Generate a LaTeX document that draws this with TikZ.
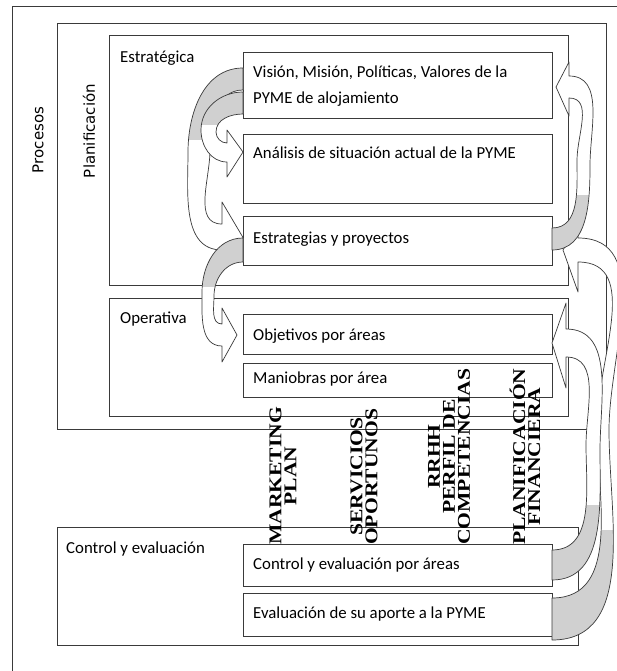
\documentclass[tikz,border=0pt]{standalone}
\usepackage{fontspec}
\setmainfont{Carlito}
\newfontfamily\vertfont{Liberation Serif Bold}[FakeStretch=1.2]
\newfontfamily\sidefont{DejaVu Sans}
\usetikzlibrary{calc}
\definecolor{ln}{HTML}{3A3A3A}
\definecolor{backgray}{HTML}{D0D0D0}

\newcommand\LeftBArrow[2]{%
 \fill[white] (#1t1) to[out=180,in=90] (#1lo) to[out=270,in=180] (#1bo) -- (#1b2) -- (#1tip) -- (#1b1) -- (#1bi) to[out=180,in=270] (#1li) to[out=90,in=180] (#1t2) -- cycle;
 \begin{scope}
  \clip (0,-#2) rectangle (617,0);
  \fill[backgray] (#1t1) to[out=180,in=90] (#1lo) to[out=270,in=180] (#1bo) -- (#1b2) -- (#1tip) -- (#1b1) -- (#1bi) to[out=180,in=270] (#1li) to[out=90,in=180] (#1t2) -- cycle;
 \end{scope}
 \draw[arrline] (#1t1) to[out=180,in=90] (#1lo) to[out=270,in=180] (#1bo) -- (#1b2) -- (#1tip) -- (#1b1) -- (#1bi) to[out=180,in=270] (#1li) to[out=90,in=180] (#1t2) -- cycle;}

\newcommand\RightBArrow[2]{%
 \fill[white] (#1t1) to[out=0,in=270] (#1ro) to[out=90,in=0] (#1bo) -- (#1b1) -- (#1tip) -- (#1b2) -- (#1bi) to[out=0,in=90] (#1ri) to[out=270,in=0] (#1t2) -- cycle;
 \begin{scope}
  \clip (0,-#2) rectangle (617,-671);
  \fill[backgray] (#1t1) to[out=0,in=270] (#1ro) to[out=90,in=0] (#1bo) -- (#1b1) -- (#1tip) -- (#1b2) -- (#1bi) to[out=0,in=90] (#1ri) to[out=270,in=0] (#1t2) -- cycle;
 \end{scope}
 \draw[arrline] (#1t1) to[out=0,in=270] (#1ro) to[out=90,in=0] (#1bo) -- (#1b1) -- (#1tip) -- (#1b2) -- (#1bi) to[out=0,in=90] (#1ri) to[out=270,in=0] (#1t2) -- cycle;}

\begin{document}
\begin{tikzpicture}[x=1pt,y=1pt,
  frame/.style={draw=ln, line width=0.9pt, inner sep=0pt, outer sep=0pt, anchor=north west},
  txt/.style={font=\fontsize{16.8}{20}\selectfont, anchor=base west, inner sep=0pt},
  vlab/.style={font=\vertfont\fontsize{18}{15}\selectfont, rotate=90, anchor=west, align=center, inner sep=0pt},
  side/.style={font=\sidefont\fontsize{15}{18}\selectfont, rotate=90, inner sep=0pt},
  arrline/.style={draw=ln, line width=0.7pt, line join=round}]
\useasboundingbox (0,0) rectangle (617,-671);
\fill[white] (0,0) rectangle (617,-671);

% frames
\node[frame, minimum width=640pt, minimum height=700pt] (proc) at (12,-6) {};
\node[frame, minimum width=549pt, minimum height=406pt] (plan) at (57,-23) {};
\node[frame, minimum width=459pt, minimum height=250pt] (estr) at (109,-35) {};
\node[frame, minimum width=459pt, minimum height=118pt] (oper) at (109,-298) {};
\node[frame, minimum width=521pt, minimum height=118pt] (ctrl) at (57,-527) {};

% boxes
\node[frame, minimum width=309pt, minimum height=66pt] (vision) at (243,-52) {};
\node[frame, minimum width=309pt, minimum height=69pt] (analisis) at (243,-134) {};
\node[frame, minimum width=309pt, minimum height=49pt] (estrat) at (243,-216) {};
\node[frame, minimum width=309pt, minimum height=40pt] (obj) at (243,-314) {};
\node[frame, minimum width=309pt, minimum height=34pt] (man) at (243,-363) {};
\node[frame, minimum width=309pt, minimum height=42pt] (cpa) at (243,-544) {};
\node[frame, minimum width=309pt, minimum height=43pt] (eva) at (243,-593) {};

% labels
\node[side] (lproc) at (38,-140) {Procesos};
\node[side] (lplan) at (89,-131) {Planificación};
\node[txt] (lestr) at ($(estr.north west)+(11,-28)$) {Estratégica};
\node[txt] (loper) at ($(oper.north west)+(11,-25)$) {Operativa};
\node[txt] (lctrl) at ($(ctrl.north west)+(9,-26)$) {Control y evaluación};

\node[txt] (tv1) at ($(vision.north west)+(10,-26)$) {Visión, Misión, Políticas, Valores de la};
\node[txt] (tv2) at ($(vision.north west)+(10,-52)$) {PYME de alojamiento};
\node[txt] (ta) at ($(analisis.north west)+(10,-24)$) {Análisis de situación actual de la PYME};
\node[txt] (te) at ($(estrat.north west)+(10,-27)$) {Estrategias y proyectos};
\node[txt] (to) at ($(obj.north west)+(10,-26)$) {Objetivos por áreas};
\node[txt] (tm) at ($(man.north west)+(10,-20)$) {Maniobras por área};
\node[txt] (tc) at ($(cpa.north west)+(10,-25)$) {Control y evaluación por áreas};
\node[txt] (tev) at ($(eva.north west)+(10,-25)$) {Evaluación de su aporte a la PYME};

% vertical labels
\node[vlab] (vm) at (283,-545) {MARKETING\\PLAN};
\node[vlab] (vs) at (364,-545) {SERVICIOS\\OPORTUNOS};
\node[vlab] (vr) at (449,-545) {RRHH\\PERFIL DE\\COMPETENCIAS};
\node[vlab] (vp) at (525,-545) {PLANIFICACIÓN\\FINANCIERA};

% ---- left arrows ----
% L1: vision -> estrategias
\coordinate (lat1) at ($(vision.north west)+(0,-16)$);
\coordinate (lat2) at ($(vision.north west)+(0,-38)$);
\coordinate (lalo) at (188,-152);
\coordinate (lali) at (210,-150);
\coordinate (labo) at (222,-250);
\coordinate (labi) at (222,-224);
\coordinate (lab1) at (222,-202);
\coordinate (lab2) at (222,-272);
\coordinate (latip) at ($(estrat.west)+(0,3)$);
\LeftBArrow{la}{140}
% L3: estrategias -> objetivos
\coordinate (lct1) at ($(estrat.north west)+(0,-22)$);
\coordinate (lct2) at ($(estrat.north west)+(0,-46)$);
\coordinate (lclo) at (202,-292);
\coordinate (lcli) at (214,-296);
\coordinate (lcbo) at (222,-346);
\coordinate (lcbi) at (222,-324);
\coordinate (lcb1) at (222,-308);
\coordinate (lcb2) at (222,-362);
\coordinate (lctip) at ($(obj.west)+(-6,-1)$);
\LeftBArrow{lc}{286}
% L2: vision -> analisis
\coordinate (lbt1) at ($(vision.north west)+(0,-40)$);
\coordinate (lbt2) at ($(vision.north west)+(0,-62)$);
\coordinate (lblo) at (201,-130);
\coordinate (lbli) at (216,-132);
\coordinate (lbbo) at (227,-162);
\coordinate (lbbi) at (227,-143);
\coordinate (lbb1) at (227,-130);
\coordinate (lbb2) at (227,-177);
\coordinate (lbtip) at ($(analisis.north west)+(0,-18)$);
\LeftBArrow{lb}{125}

% ---- right arrows ----
% R3: evaluacion -> estrategias
\coordinate (rct1) at ($(eva.north east)+(0,-47)$);
\coordinate (rct2) at ($(eva.north east)+(0,-5)$);
\coordinate (rcro) at (609,-430);
\coordinate (rcri) at (597,-425);
\coordinate (rcbo) at (578,-238);
\coordinate (rcbi) at (578,-262);
\coordinate (rcb1) at (578,-224);
\coordinate (rcb2) at (578,-292);
\coordinate (rctip) at (563,-250);
\RightBArrow{rc}{530}
% R2: control -> objetivos
\coordinate (rbt1) at ($(cpa.north east)+(0,-36)$);
\coordinate (rbt2) at ($(cpa.north east)+(0,-6)$);
\coordinate (rbro) at (600,-450);
\coordinate (rbri) at (586,-445);
\coordinate (rbbo) at (566,-329);
\coordinate (rbbi) at (566,-357);
\coordinate (rbb1) at (566,-303);
\coordinate (rbb2) at (566,-388);
\coordinate (rbtip) at ($(obj.east)+(0,-9)$);
\RightBArrow{rb}{505}
% R1: estrategias -> vision
\coordinate (rat1) at ($(estrat.north east)+(0,-34)$);
\coordinate (rat2) at ($(estrat.north east)+(0,-12)$);
\coordinate (raro) at (590,-165);
\coordinate (rari) at (577,-160);
\coordinate (rabo) at (569,-76);
\coordinate (rabi) at (569,-98);
\coordinate (rab1) at (569,-62);
\coordinate (rab2) at (569,-116);
\coordinate (ratip) at ($(vision.north east)+(4,-35)$);
\RightBArrow{ra}{195}
\end{tikzpicture}
\end{document}
